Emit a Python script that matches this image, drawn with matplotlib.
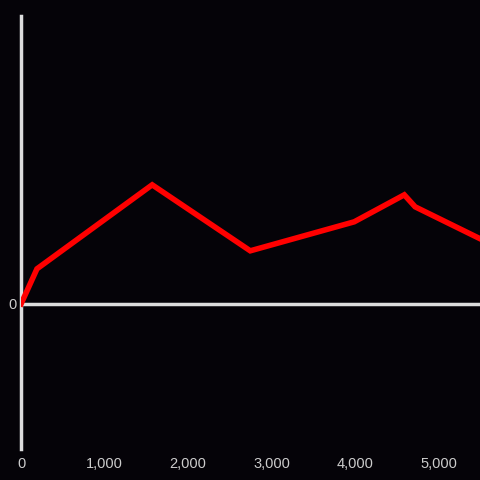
import matplotlib
matplotlib.use("Agg")
import matplotlib.pyplot as plt
from matplotlib.ticker import FuncFormatter

# data (y in arbitrary units, only the zero is labelled)
xs = [0, 190, 1570, 2745, 3990, 4590, 4720, 5500]
ys = [0, 35, 119, 53, 82, 109, 97, 65]
xticks = [0, 1000, 2000, 3000, 4000, 5000]

bg = '#050308'
fig = plt.figure(figsize=(4.8, 4.8), dpi=100, facecolor=bg)
ax = fig.add_axes([0.044, 0.065, 0.956, 0.902], facecolor=bg)

ax.plot(xs, ys, color='#ff0000', lw=4, solid_joinstyle='miter', clip_on=True, zorder=3)

ax.set_xlim(0, 5497)
ax.set_ylim(-145, 288)

for s in ['top', 'right', 'bottom']:
    ax.spines[s].set_visible(False)
ax.spines['left'].set_color('#dddddd')
ax.spines['left'].set_linewidth(2.5)
ax.axhline(0, color='#dddddd', lw=2.5, zorder=2)

ax.set_xticks(xticks)
ax.xaxis.set_major_formatter(FuncFormatter(lambda v, p: f'{int(v):,}'))
ax.set_yticks([0])
ax.tick_params(axis='both', length=0, colors='#cccccc', labelsize=10.5)
ax.tick_params(axis='x', pad=6)
ax.tick_params(axis='y', pad=3)
for lab in ax.get_xticklabels() + ax.get_yticklabels():
    lab.set_family('Liberation Sans')

fig.savefig('out.png', dpi=100, facecolor=bg)
